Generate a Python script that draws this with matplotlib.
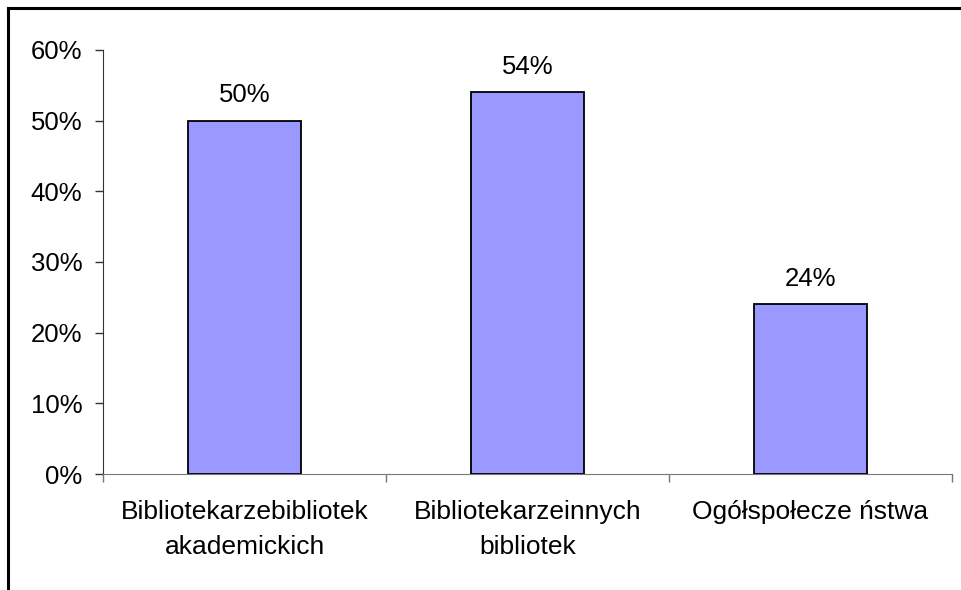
import matplotlib.pyplot as plt
import numpy as np
from matplotlib.lines import Line2D
from matplotlib.ticker import FixedLocator, PercentFormatter

plt.rcParams["font.family"] = ["Liberation Sans", "DejaVu Sans"]

categories = ["Bibliotekarzebibliotek\nakademickich", "Bibliotekarzeinnych\nbibliotek", "Ogółspołecze ństwa"]
values = [50, 54, 24]
yticks = [0, 10, 20, 30, 40, 50, 60]

FS = 18.5

fig = plt.figure(figsize=(9.61, 5.90), dpi=100)
ax = fig.add_axes([0.1072, 0.1966, 0.8834, 0.7187])

x = np.arange(len(categories))
ax.bar(x, values, width=0.4, color="#9999FF", edgecolor="black", linewidth=1.3, zorder=3)
for xi, v in zip(x, values):
    ax.annotate(f"{v}%", (xi, v), xytext=(0, 13.5), textcoords="offset points",
                ha="center", va="baseline", fontsize=FS)

ax.set_xlim(-0.5, len(categories) - 0.5)
ax.set_ylim(0, 60)
ax.set_yticks(yticks)
ax.yaxis.set_major_formatter(PercentFormatter(decimals=0))
ax.tick_params(axis="y", direction="out", length=6, width=1, labelsize=FS, pad=9, color="#333333")

ax.set_xticks(x)
ax.set_xticklabels(categories, fontsize=19, linespacing=1.6)
ax.xaxis.set_minor_locator(FixedLocator(np.arange(-0.5, len(categories), 1.0)))
ax.tick_params(axis="x", which="major", length=0, pad=18.5)
ax.tick_params(axis="x", which="minor", direction="out", length=6, width=1, color="#777777")

for s in ["top", "right"]:
    ax.spines[s].set_visible(False)
ax.spines["left"].set_color("#333333")
ax.spines["bottom"].set_color("#777777")

# outer frame (only top and left edges fall inside the picture)
fig.add_artist(Line2D([0.0083, 1.0], [1 - 8 / 590, 1 - 8 / 590], color="black", linewidth=2.2,
                      transform=fig.transFigure))
fig.add_artist(Line2D([8 / 961, 8 / 961], [0.0, 1 - 8 / 590], color="black", linewidth=2.2,
                      transform=fig.transFigure))

fig.savefig("out.png", dpi=100)
